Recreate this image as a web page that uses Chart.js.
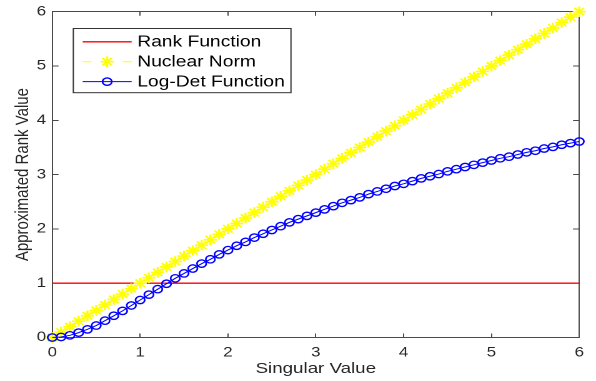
<!DOCTYPE html>
<html><head><meta charset="utf-8">
<script src="https://cdn.jsdelivr.net/npm/chart.js@4/dist/chart.umd.min.js"></script>
<style>
html,body{margin:0;padding:0;background:#fff;overflow:hidden;width:596px;height:381px;}
#wrap{position:absolute;left:0;top:0;width:477px;height:381px;transform:scaleX(1.249476);transform-origin:0 0;}
</style></head><body>
<div id="wrap"><canvas id="c"></canvas></div>
<script>
// ---- data ----
const singularValues = [0,0.1,0.2,0.3,0.4,0.5,0.6,0.7,0.8,0.9,1.0,1.1,1.2,1.3,1.4,1.5,1.6,1.7,1.8,1.9,2.0,2.1,2.2,2.3,2.4,2.5,2.6,2.7,2.8,2.9,3.0,3.1,3.2,3.3,3.4,3.5,3.6,3.7,3.8,3.9,4.0,4.1,4.2,4.3,4.4,4.5,4.6,4.7,4.8,4.9,5.0,5.1,5.2,5.3,5.4,5.5,5.6,5.7,5.8,5.9,6.0];
const rankFunction = [1,1,1,1,1,1,1,1,1,1,1,1,1,1,1,1,1,1,1,1,1,1,1,1,1,1,1,1,1,1,1,1,1,1,1,1,1,1,1,1,1,1,1,1,1,1,1,1,1,1,1,1,1,1,1,1,1,1,1,1,1];
const nuclearNorm = [0,0.1,0.2,0.3,0.4,0.5,0.6,0.7,0.8,0.9,1.0,1.1,1.2,1.3,1.4,1.5,1.6,1.7,1.8,1.9,2.0,2.1,2.2,2.3,2.4,2.5,2.6,2.7,2.8,2.9,3.0,3.1,3.2,3.3,3.4,3.5,3.6,3.7,3.8,3.9,4.0,4.1,4.2,4.3,4.4,4.5,4.6,4.7,4.8,4.9,5.0,5.1,5.2,5.3,5.4,5.5,5.6,5.7,5.8,5.9,6.0];
const logDetFunction = [0,0.01,0.04,0.09,0.15,0.22,0.31,0.40,0.49,0.59,0.69,0.79,0.89,0.99,1.09,1.18,1.27,1.36,1.44,1.53,1.61,1.69,1.76,1.84,1.91,1.98,2.05,2.12,2.18,2.24,2.30,2.36,2.42,2.48,2.53,2.58,2.64,2.69,2.74,2.79,2.83,2.88,2.93,2.97,3.01,3.06,3.10,3.14,3.18,3.22,3.26,3.30,3.33,3.37,3.41,3.44,3.48,3.51,3.55,3.58,3.61];
const seriesNames = ['Rank Function','Nuclear Norm','Log-Det Function'];
const xAxisTitle = 'Singular Value';
const yAxisTitle = 'Approximated Rank Value';
const axisMin = 0, axisMax = 6, tickStep = 1;

// ---- styles ----
const AXIS = '#4a4a4a';
const TEXT = '#262626';
const FONT = 'Liberation Sans, Arial, Helvetica, sans-serif';

function pts(ys){ return singularValues.map((x,i)=>({x:x, y:ys[i]})); }

const datasets = [
  {label:seriesNames[0], data:pts(rankFunction), borderColor:'#ff0000', borderWidth:1.4,
   pointRadius:0, order:3, mk:null},
  {label:seriesNames[1], data:pts(nuclearNorm), borderColor:'#ffff00', borderWidth:1, borderDash:[7,9.1],
   pointStyle:'star', pointRadius:5.3, pointBorderColor:'#ffff00', pointBorderWidth:1.7, order:2, mk:'star'},
  {label:seriesNames[2], data:pts(logDetFunction), borderColor:'#0000ff', borderWidth:1,
   pointStyle:'circle', pointRadius:3.7, pointBorderColor:'#0000ff', pointBackgroundColor:'rgba(0,0,0,0)',
   pointBorderWidth:1.35, order:1, mk:'circle'}
];
datasets.forEach(d=>{ d.clip=false; d.tension=0; d.fill=false; d.pointHoverRadius=d.pointRadius; });

function drawMarker(ctx, type, x, y, r, color, lw){
  ctx.save(); ctx.setLineDash([]); ctx.strokeStyle=color; ctx.lineWidth=lw;
  ctx.beginPath();
  if(type==='star'){
    for(let k=0;k<4;k++){ const a=k*Math.PI/4; ctx.moveTo(x-Math.cos(a)*r,y-Math.sin(a)*r); ctx.lineTo(x+Math.cos(a)*r,y+Math.sin(a)*r); }
  } else if(type==='circle'){
    ctx.arc(x,y,r,0,Math.PI*2);
  }
  ctx.stroke(); ctx.restore();
}

const boxLegend = {
  id:'boxLegend',
  afterDatasetsDraw(chart){
    const ctx=chart.ctx, a=chart.chartArea;
    const bx=a.left+16.8, by=a.top+16.8, bw=174.2, bh=64.2;
    ctx.save();
    ctx.fillStyle='#fff'; ctx.fillRect(bx,by,bw,bh);
    ctx.strokeStyle='#333'; ctx.lineWidth=1; ctx.strokeRect(bx,by,bw,bh);
    chart.data.datasets.forEach((ds,i)=>{
      const y=by+13.3+i*19.9, x0=bx+7.5, x1=bx+46.7, xm=(x0+x1)/2;
      ctx.save();
      ctx.strokeStyle=ds.borderColor; ctx.lineWidth=ds.borderWidth; ctx.setLineDash(ds.borderDash||[]);
      ctx.beginPath(); ctx.moveTo(x0,y); ctx.lineTo(x1,y); ctx.stroke();
      ctx.restore();
      if(ds.mk) drawMarker(ctx, ds.mk, xm, y, ds.pointRadius, ds.pointBorderColor, ds.pointBorderWidth);
      ctx.fillStyle='#000'; ctx.font='15.4px '+FONT; ctx.textAlign='left'; ctx.textBaseline='middle';
      ctx.fillText(ds.label, bx+51.2, y+0.5);
    });
    ctx.restore();
  }
};

function axisBase(pos, tl){
  return {
    type:'linear', position:pos, min:axisMin, max:axisMax,
    grid:{drawOnChartArea:false, drawTicks:true, tickLength:tl, color:AXIS, lineWidth:1},
    border:{display:true, color:AXIS, width:1},
    ticks:{stepSize:tickStep, display:false}
  };
}
function noPad(s){ s.paddingTop=0; s.paddingBottom=0; s.paddingLeft=0; s.paddingRight=0; }

const xMain = axisBase('bottom', -4);
xMain.ticks = {stepSize:tickStep, display:true, color:TEXT, font:{family:FONT, size:13.5}, padding:11, maxRotation:0};
xMain.title = {display:true, text:xAxisTitle, color:TEXT, font:{family:FONT, size:15}, padding:{top:0, bottom:3}};
xMain.afterFit = s=>{ s.height = 43.5; noPad(s); };

const yMain = axisBase('left', -5);
yMain.ticks = {stepSize:tickStep, display:true, color:TEXT, font:{family:FONT, size:13.5}, padding:10};
yMain.title = {display:true, text:yAxisTitle, color:TEXT, font:{family:FONT, size:15}, padding:{top:9.3, bottom:0}};
yMain.afterFit = s=>{ s.width = 41.86; noPad(s); };

const xTop = axisBase('top', -4); xTop.afterFit = s=>{ s.height = 0; noPad(s); };
const yRight = axisBase('right', -5); yRight.afterFit = s=>{ s.width = 0; noPad(s); };

new Chart(document.getElementById('c'), {
  type:'line',
  data:{datasets:datasets},
  options:{
    responsive:true, maintainAspectRatio:false, animation:false, devicePixelRatio:2,
    events:[],
    layout:{padding:{top:11.7, right:13.4, bottom:0, left:0}},
    plugins:{legend:{display:false}, tooltip:{enabled:false}},
    scales:{x:xMain, y:yMain, x2:xTop, y2:yRight}
  },
  plugins:[boxLegend]
});
</script>
</body></html>
